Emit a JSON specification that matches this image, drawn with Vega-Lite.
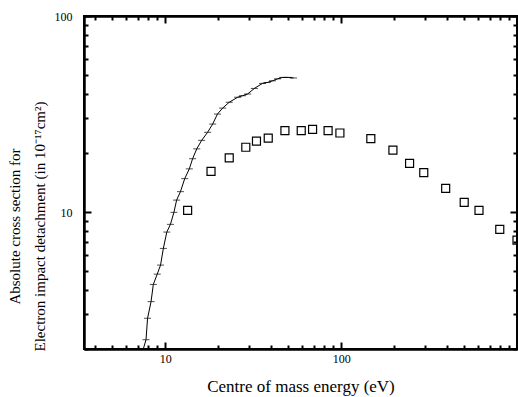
{
  "$schema": "https://vega.github.io/schema/vega-lite/v6.json",
  "width": 433,
  "height": 333,
  "autosize": "none",
  "padding": {"left": 84, "top": 16, "right": 1, "bottom": 48},
  "background": "white",
  "config": {
    "view": {"stroke": "black", "strokeWidth": 2},
    "font": "Liberation Serif",
    "axis": {
      "domainColor": "black",
      "domainWidth": 2,
      "tickColor": "black",
      "tickWidth": 2,
      "grid": false,
      "labelFont": "Liberation Serif",
      "labelColor": "black",
      "labelFontSize": 12,
      "titleFont": "Liberation Serif",
      "titleColor": "black",
      "titleFontWeight": "normal",
      "titleFontSize": 16
    }
  },
  "datasets": {
    "curve": [
      {"E": 7.5, "sigma": 2.0},
      {"E": 7.77, "sigma": 2.23},
      {"E": 7.93, "sigma": 2.87},
      {"E": 8.3, "sigma": 3.49},
      {"E": 8.55, "sigma": 4.27},
      {"E": 9.0, "sigma": 4.82},
      {"E": 9.4, "sigma": 5.36},
      {"E": 9.75, "sigma": 6.52},
      {"E": 10.2, "sigma": 7.9},
      {"E": 10.7, "sigma": 8.65},
      {"E": 11.2, "sigma": 9.96},
      {"E": 11.6, "sigma": 11.5},
      {"E": 12.2, "sigma": 12.7},
      {"E": 12.9, "sigma": 14.8},
      {"E": 13.7, "sigma": 16.6},
      {"E": 14.3, "sigma": 18.7},
      {"E": 15.1, "sigma": 21.0},
      {"E": 16.1, "sigma": 23.2},
      {"E": 17.4, "sigma": 25.5},
      {"E": 18.6, "sigma": 28.1},
      {"E": 19.8, "sigma": 31.6},
      {"E": 21.2, "sigma": 33.9},
      {"E": 23.1, "sigma": 36.3},
      {"E": 25.8, "sigma": 38.5},
      {"E": 27.5, "sigma": 39.2},
      {"E": 29.4, "sigma": 40.0},
      {"E": 32.1, "sigma": 42.7},
      {"E": 35.7, "sigma": 45.3},
      {"E": 38.0, "sigma": 45.8},
      {"E": 40.7, "sigma": 46.7},
      {"E": 43.5, "sigma": 47.8},
      {"E": 46.5, "sigma": 48.6},
      {"E": 50.0, "sigma": 48.6},
      {"E": 53.6, "sigma": 48.3}
    ],
    "squares": [
      {"E": 13.4, "sigma": 10.2},
      {"E": 18.2, "sigma": 16.1},
      {"E": 23.1, "sigma": 18.9},
      {"E": 28.7, "sigma": 21.4},
      {"E": 33.0, "sigma": 23.0},
      {"E": 38.5, "sigma": 23.8},
      {"E": 47.9, "sigma": 26.0},
      {"E": 59.3, "sigma": 26.0},
      {"E": 68.8, "sigma": 26.4},
      {"E": 84.3, "sigma": 26.0},
      {"E": 98.4, "sigma": 25.3},
      {"E": 147.5, "sigma": 23.7},
      {"E": 197, "sigma": 20.7},
      {"E": 245, "sigma": 17.7},
      {"E": 295, "sigma": 15.9},
      {"E": 393, "sigma": 13.2},
      {"E": 501, "sigma": 11.2},
      {"E": 608, "sigma": 10.2},
      {"E": 798, "sigma": 8.15},
      {"E": 1000, "sigma": 7.18}
    ]
  },
  "layer": [
    {
      "data": {"name": "curve"},
      "mark": {"type": "line", "color": "black", "strokeWidth": 1, "clip": true},
      "encoding": {
        "x": {
          "field": "E", "type": "quantitative",
          "scale": {"type": "log", "domain": [3.45, 1000], "nice": false},
          "axis": {
            "orient": "bottom",
            "title": "Centre of mass energy (eV)",
            "titleFontSize": 17,
            "titlePadding": 14,
            "values": [10, 100],
            "format": "d",
            "tickSize": -7,
            "labelPadding": 11
          }
        },
        "y": {
          "field": "sigma", "type": "quantitative",
          "scale": {"type": "log", "domain": [2, 100], "nice": false},
          "axis": {
            "orient": "left",
            "title": ["Absolute cross section for", "Electron impact detachment (in 10⁻¹⁷cm²)"],
            "titleFontSize": 15,
            "titleLineHeight": 25,
            "titleBaseline": "bottom",
            "titleX": -62,
            "titleY": 210,
            "values": [10, 100],
            "format": "d",
            "tickSize": -7,
            "labelPadding": 19
          }
        }
      }
    },
    {
      "data": {"name": "curve"},
      "mark": {"type": "tick", "orient": "horizontal", "color": "black", "size": 7, "thickness": 1, "clip": true},
      "encoding": {
        "x": {
          "field": "E", "type": "quantitative",
          "axis": {"orient": "top", "title": null, "labels": false, "values": [10, 100], "tickSize": -7}
        },
        "y": {
          "field": "sigma", "type": "quantitative",
          "axis": {"orient": "right", "title": null, "labels": false, "values": [10, 100], "tickSize": -7}
        }
      }
    },
    {
      "data": {"name": "squares"},
      "mark": {"type": "point", "shape": "square", "filled": false, "color": "black", "strokeWidth": 1.2, "size": 64, "opacity": 1, "clip": true},
      "encoding": {
        "x": {
          "field": "E", "type": "quantitative",
          "axis": {"orient": "bottom", "title": null, "labels": false, "tickSize": -4,
            "values": [4,5,6,7,8,9,20,30,40,50,60,70,80,90,200,300,400,500,600,700,800,900]}
        },
        "y": {
          "field": "sigma", "type": "quantitative",
          "axis": {"orient": "left", "title": null, "labels": false, "tickSize": -4,
            "values": [2,3,4,5,6,7,8,9,20,30,40,50,60,70,80,90]}
        }
      }
    },
    {
      "data": {"name": "squares"},
      "mark": {"type": "point", "opacity": 0, "size": 1},
      "encoding": {
        "x": {
          "field": "E", "type": "quantitative",
          "axis": {"orient": "top", "title": null, "labels": false, "tickSize": -4,
            "values": [4,5,6,7,8,9,20,30,40,50,60,70,80,90,200,300,400,500,600,700,800,900]}
        },
        "y": {
          "field": "sigma", "type": "quantitative",
          "axis": {"orient": "right", "title": null, "labels": false, "tickSize": -4,
            "values": [2,3,4,5,6,7,8,9,20,30,40,50,60,70,80,90]}
        }
      }
    }
  ],
  "resolve": {"axis": {"x": "independent", "y": "independent"}}
}
